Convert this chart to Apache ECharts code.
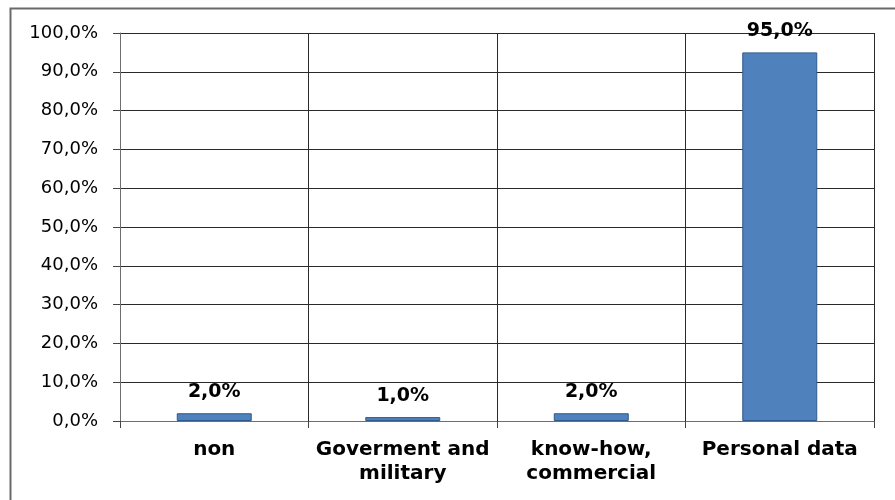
<!DOCTYPE html>
<html>
<head>
<meta charset="utf-8">
<script src="https://cdn.jsdelivr.net/npm/echarts@6/dist/echarts.min.js"></script>
<style>
  html, body { margin: 0; padding: 0; background: #fff; }
  #chart { width: 895px; height: 500px; }
</style>
</head>
<body>
<div id="chart"></div>
<script>
// Share of incidents by type of data
const categories = ['non', 'Goverment and\nmilitary', 'know-how,\ncommercial', 'Personal data'];
const shares = [2.0, 1.0, 2.0, 95.0];
const yTicks = { min: 0, max: 100, step: 10 };

const fmt = v => v.toFixed(1).replace('.', ',') + '%';

const chart = echarts.init(document.getElementById('chart'), null, { renderer: 'canvas' });

chart.setOption({
  backgroundColor: '#ffffff',
  animation: false,
  graphic: [{
    type: 'rect',
    left: 8, top: 6,
    shape: { width: 1000, height: 1000 },
    style: { fill: 'none', stroke: '#6a6a6a', lineWidth: 2 },
    silent: true
  }],
  grid: { left: 120, top: 33, right: 21, bottom: 79, containLabel: false },
  xAxis: {
    type: 'category',
    data: categories,
    axisLine: { show: true, lineStyle: { color: '#6e6e6e', width: 1 } },
    axisTick: { show: true, length: 7, lineStyle: { color: '#444', width: 1 } },
    splitLine: { show: true, lineStyle: { color: '#2a2a2a', width: 1 } },
    axisLabel: {
      interval: 0,
      margin: 17,
      fontFamily: 'DejaVu Sans',
      fontWeight: 'bold',
      fontSize: 20,
      lineHeight: 24,
      color: '#000'
    }
  },
  yAxis: {
    type: 'value',
    min: yTicks.min,
    max: yTicks.max,
    interval: yTicks.step,
    axisLine: { show: true, lineStyle: { color: '#6e6e6e', width: 1 } },
    axisTick: { show: true, length: 7, lineStyle: { color: '#444', width: 1 } },
    splitLine: { show: true, lineStyle: { color: '#2a2a2a', width: 1 } },
    axisLabel: {
      margin: 22,
      fontFamily: 'DejaVu Sans',
      fontSize: 18,
      color: '#000',
      formatter: v => fmt(v)
    }
  },
  series: [{
    type: 'bar',
    data: shares,
    barWidth: 75,
    itemStyle: { color: '#4f81bd', borderColor: '#2f5a8e', borderWidth: 1 },
    label: {
      show: true,
      position: 'top',
      distance: 12,
      fontFamily: 'DejaVu Sans',
      fontWeight: 'bold',
      fontSize: 19,
      color: '#000',
      formatter: p => fmt(p.value)
    }
  }]
});
</script>
</body>
</html>
